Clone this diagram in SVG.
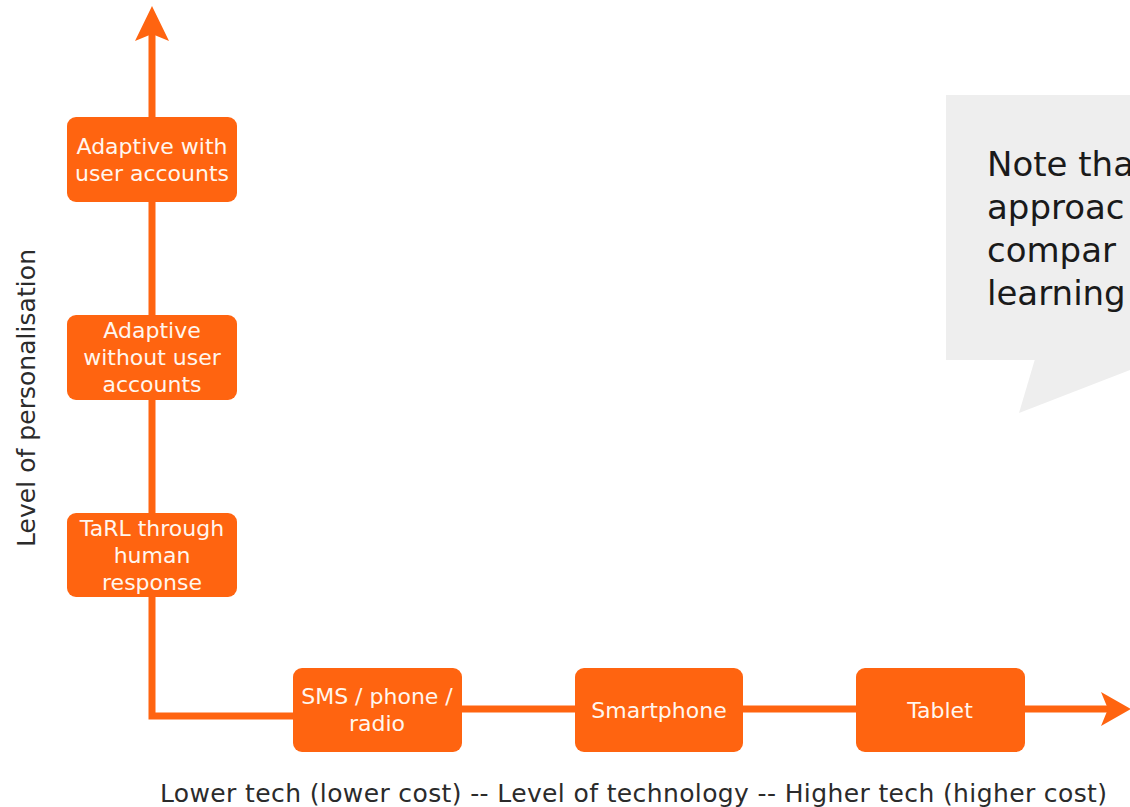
<svg xmlns="http://www.w3.org/2000/svg" width="1130" height="807" viewBox="0 0 1130 807">
<style>
.box{fill:#ff6410;}
.bt{font-family:"DejaVu Sans","Open Sans",sans-serif;font-size:22px;fill:#fff6ee;text-anchor:middle;}
.ax{fill:none;stroke:#ff6410;stroke-width:7;}
.ah{fill:#ff6410;}
.lbl{font-family:"DejaVu Sans","Open Sans",sans-serif;font-size:25px;fill:#2b2b2b;}
.note{font-family:"DejaVu Sans","Open Sans",sans-serif;font-size:34px;fill:#1a1a1a;}
</style>
<rect width="1130" height="807" fill="#ffffff"/>
<g id="callout">
<rect x="946" y="95" width="190" height="265" fill="#eeeeee"/>
<polygon points="1035,359 1019,413 1135,368 1135,359" fill="#eeeeee"/>
<text class="note" x="987" y="176">Note tha</text>
<text class="note" x="987" y="219">approac</text>
<text class="note" x="987" y="262">compar</text>
<text class="note" x="987" y="305">learning</text>
</g>
<g id="connectors">
<path class="ax" d="M152,32 V716 H300"/>
<path class="ax" d="M455,709 H1110"/>
<polygon class="ah" points="152,6 169,41 152,34 135,41"/>
<polygon class="ah" points="1131,709 1101,726 1108,709 1101,692"/>
</g>
<g id="n-adaptive-accounts">
<rect class="box" x="67" y="117" width="170" height="85" rx="9"/>
<text class="bt" x="152" y="154">Adaptive with</text>
<text class="bt" x="152" y="181">user accounts</text>
</g>
<g id="n-adaptive-no-accounts">
<rect class="box" x="67" y="315" width="170" height="85" rx="9"/>
<text class="bt" x="152" y="338">Adaptive</text>
<text class="bt" x="152" y="365">without user</text>
<text class="bt" x="152" y="392">accounts</text>
</g>
<g id="n-tarl">
<rect class="box" x="67" y="513" width="170" height="84" rx="9"/>
<text class="bt" x="152" y="536">TaRL through</text>
<text class="bt" x="152" y="563">human</text>
<text class="bt" x="152" y="590">response</text>
</g>
<g id="n-sms">
<rect class="box" x="293" y="668" width="169" height="84" rx="9"/>
<text class="bt" x="377" y="704">SMS / phone /</text>
<text class="bt" x="377" y="731">radio</text>
</g>
<g id="n-smartphone">
<rect class="box" x="575" y="668" width="168" height="84" rx="9"/>
<text class="bt" x="659" y="718">Smartphone</text>
</g>
<g id="n-tablet">
<rect class="box" x="856" y="668" width="169" height="84" rx="9"/>
<text class="bt" x="940" y="718">Tablet</text>
</g>
<g id="axis-labels">
<text class="lbl" x="160" y="802" textLength="947" lengthAdjust="spacing">Lower tech (lower cost) -- Level of technology -- Higher tech (higher cost)</text>
<text class="lbl" x="0" y="0" text-anchor="middle" transform="translate(35,398) rotate(-90)" textLength="298" lengthAdjust="spacing">Level of personalisation</text>
</g>
</svg>
